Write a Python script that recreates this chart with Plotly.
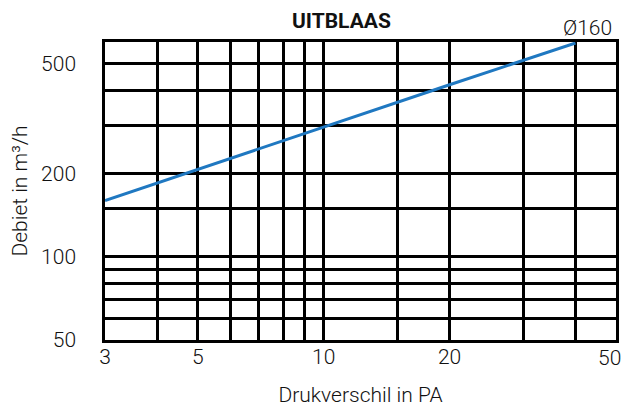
import plotly.graph_objects as go

# Data
pressure_pa = [3, 10, 20, 40]
flow_m3h = [160, 296, 420, 595]
series_name = "Ø160"

x_grid = [3, 4, 5, 6, 7, 8, 9, 10, 15, 20, 30, 40, 50]
x_labels = ["3", "", "5", "", "", "", "", "10", "", "20", "", "", ""]
x_last_label = "50"
y_grid = [50, 60, 70, 80, 90, 100, 150, 200, 300, 400, 500, 600]
y_labels = ["50", "", "", "", "", "100", "", "200", "", "", "500", ""]

FONT = "Roboto"
TXT = "#111"

fig = go.Figure()
fig.add_trace(go.Scatter(
    x=pressure_pa, y=flow_m3h, mode="lines",
    line=dict(color="#1f78c1", width=3), showlegend=False, hoverinfo="skip",
))

axis_common = dict(
    type="log", showgrid=True, gridcolor="black", gridwidth=2.5,
    showline=True, linecolor="black", linewidth=2.5, mirror=True,
    zeroline=False, ticks="", automargin=False,
    tickfont=dict(family=FONT, size=21, color=TXT, weight=300),
)

fig.update_xaxes(
    **axis_common,
    range=[0.4771, 1.69897], tickvals=x_grid, ticktext=x_labels,
    title=dict(text="Drukverschil in PA", font=dict(family=FONT, size=21, color=TXT, weight=300), standoff=20),
    ticklabelstandoff=-4,
)
fig.update_yaxes(
    **axis_common,
    range=[1.69897, 2.77815], tickvals=y_grid, ticktext=y_labels,
    title=dict(text="Debiet in m³/h", font=dict(family=FONT, size=21, color=TXT, weight=300), standoff=16),
    ticklabelstandoff=22,
)

# last x tick label, kept inside the window
fig.add_annotation(
    x=1.0, xref="paper", xanchor="right", xshift=7,
    y=0.0, yref="paper", yanchor="top", yshift=-4,
    text=x_last_label, showarrow=False,
    font=dict(family=FONT, size=21, color=TXT, weight=300),
)
fig.add_annotation(
    x=1.0, xref="paper", xanchor="right", xshift=-2,
    y=1.0, yref="paper", yanchor="bottom", yshift=0,
    text=series_name, showarrow=False,
    font=dict(family=FONT, size=21, color=TXT, weight=300),
)
fig.add_annotation(
    x=0.462, xref="paper", xanchor="center",
    y=1.0, yref="paper", yanchor="bottom", yshift=7,
    text="<b>UITBLAAS</b>", showarrow=False,
    font=dict(family=FONT, size=21, color=TXT),
)

# page body adds an 8px offset, so the figure is sized to fit the 630x411 window
fig.update_layout(
    width=622, height=403,
    margin=dict(l=97, r=14, t=34, b=71),
    paper_bgcolor="white", plot_bgcolor="white",
)

fig.write_html("out.html")
